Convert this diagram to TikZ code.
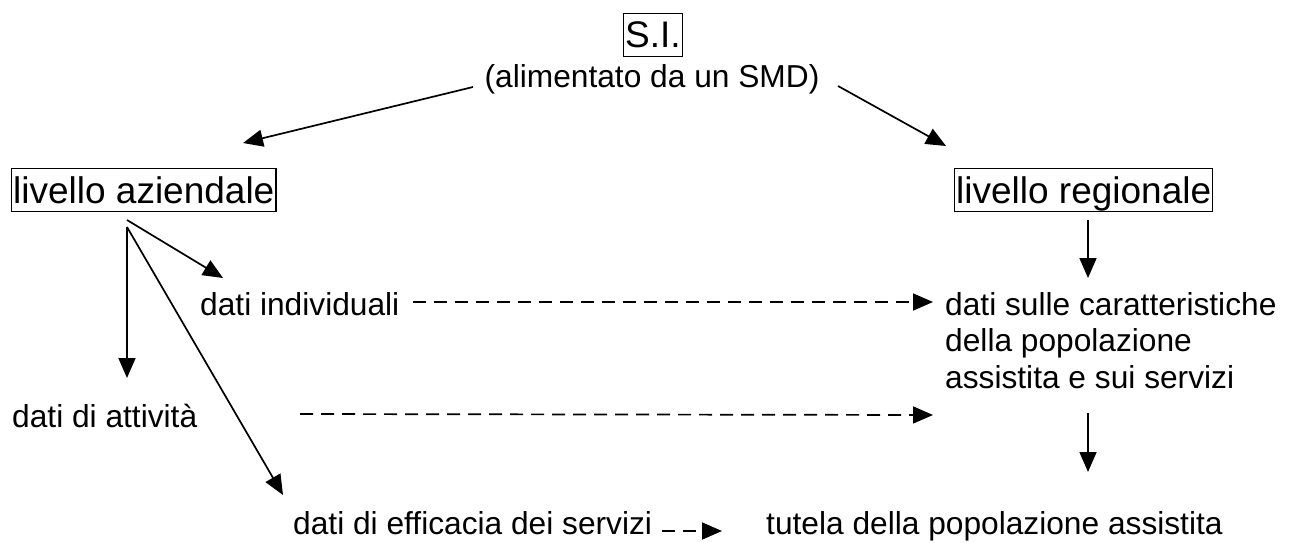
\documentclass[tikz,border=0pt]{standalone}
\usepackage{fontspec}
\setmainfont{Liberation Sans}
\usetikzlibrary{arrows.meta}
\begin{document}
\begin{tikzpicture}[x=1pt,y=-1pt,
  boxed/.style={draw, line width=1.4pt, font=\fontsize{37}{44}\selectfont,
    inner xsep=1.5pt, inner ysep=1.5pt, text height=33pt, text depth=7pt, anchor=base west},
  plain/.style={inner sep=0pt, font=\fontsize{31.7}{36.5}\selectfont, anchor=base west},
  arr/.style={-{Triangle[length=20pt,width=17pt]}, line width=1.7pt},
  darr/.style={arr, dash pattern=on 13pt off 8pt}]
\useasboundingbox (0,0) rectangle (1292,543);

% nodes
\node[boxed] (si) at (623,48) {S.I.};
\node[plain, anchor=base] (alim) at (652,88) {(alimentato da un SMD)};
\node[boxed] (az) at (11,203) {livello aziendale};
\node[boxed] (reg) at (954,203) {livello regionale};
\node[plain] (indiv) at (200,315) {dati individuali};
\node[plain] (attiv) at (12,427) {dati di attività};
\node[plain] (effic) at (293,534) {dati di efficacia dei servizi};
\node[plain] (car1) at (945,315) {dati sulle caratteristiche};
\node[plain] (car2) at (945,351.5) {della popolazione};
\node[plain] (car3) at (945,388) {assistita e sui servizi};
\node[plain] (tut) at (766,534) {tutela della popolazione assistita};

% connector end points
\coordinate (alimL) at (473,87);
\coordinate (alimR) at (838,86);
\coordinate (azTip) at (243,143);
\coordinate (regTip) at (946,146);
\coordinate (azA) at (127,220);
\coordinate (azB) at (127,227);
\coordinate (indivTip) at (223,278);
\coordinate (attivTip) at (127,378);
\coordinate (efficTip) at (283,495);
\coordinate (regB) at (1088,220);
\coordinate (car1Tip) at (1088,278);
\coordinate (car3B) at (1088,413);
\coordinate (tutTip) at (1088,472);
\coordinate (indivR) at (413,302);
\coordinate (car1L) at (933,302);
\coordinate (attivR) at (300,414);
\coordinate (car3L) at (933,415);
\coordinate (efficR) at (662,531);
\coordinate (tutL) at (722,531);

% connectors
\draw[arr] (alimL) -- (azTip);
\draw[arr] (alimR) -- (regTip);
\draw[arr] (azA) -- (indivTip);
\draw[arr] (azB) -- (attivTip);
\draw[arr] (azB) -- (efficTip);
\draw[arr] (regB) -- (car1Tip);
\draw[arr] (car3B) -- (tutTip);
\draw[darr] (indivR) -- (car1L);
\draw[darr] (attivR) -- (car3L);
\draw[darr] (efficR) -- (tutL);
\end{tikzpicture}
\end{document}
